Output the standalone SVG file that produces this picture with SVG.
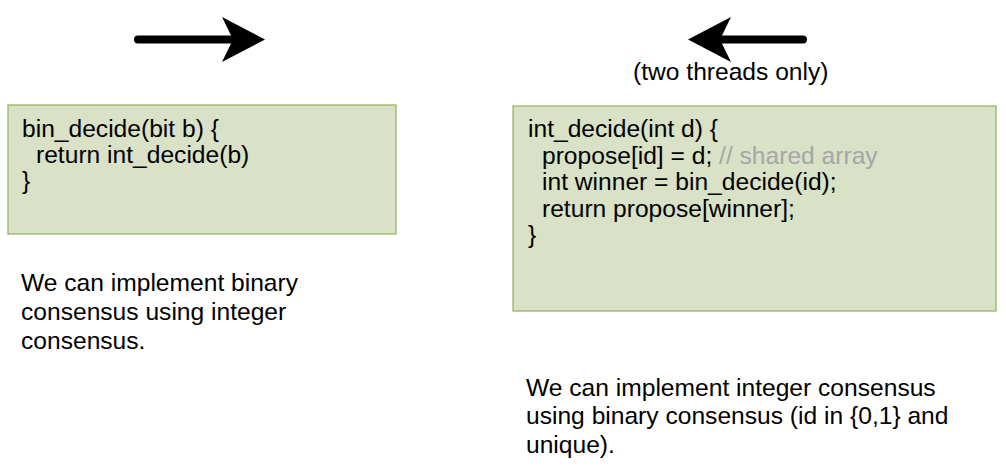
<svg xmlns="http://www.w3.org/2000/svg" width="1006" height="468" viewBox="0 0 1006 468">
  <style>
    .box { fill: #d9e1c6; stroke: #9bb462; stroke-width: 1.3; }
    .t { font-family: "Liberation Sans", Arial, sans-serif; font-size: 24.6px; fill: #000000; }
    .cm { fill: #a6a6a6; }
    .arrow { stroke: #000000; stroke-width: 8; stroke-linecap: round; fill: none; marker-end: url(#stealth); }
  </style>
  <defs>
    <marker id="stealth" markerUnits="userSpaceOnUse" viewBox="-12 -24 46 48" refX="0" refY="0" markerWidth="46" markerHeight="48" orient="auto">
      <path d="M-11,-22.5 L32,0 L-11,22.5 L0,0 Z" fill="#000000"/>
    </marker>
  </defs>
  <rect width="1006" height="468" fill="#ffffff"/>

  <g id="connectors">
    <line class="arrow" x1="138" y1="39.5" x2="233" y2="39.5"/>
    <line class="arrow" x1="803" y1="39.5" x2="720" y2="39.5"/>
  </g>

  <g id="label-two-threads">
    <text class="t" x="633" y="80">(two threads only)</text>
  </g>

  <g id="bin-decide-box">
    <rect class="box" x="8" y="105" width="388" height="129"/>
    <text class="t" x="22" y="137">bin_decide(bit b) {</text>
    <text class="t" x="36" y="163">return int_decide(b)</text>
    <text class="t" x="22" y="189">}</text>
  </g>

  <g id="int-decide-box">
    <rect class="box" x="513" y="106" width="483" height="205"/>
    <text class="t" x="528" y="137">int_decide(int d) {</text>
    <text class="t" x="542" y="163.5">propose[id] = d; <tspan class="cm">// shared array</tspan></text>
    <text class="t" x="542" y="190">int winner = bin_decide(id);</text>
    <text class="t" x="542" y="216.5">return propose[winner];</text>
    <text class="t" x="528" y="243">}</text>
  </g>

  <g id="caption-left">
    <text class="t" x="21" y="291">We can implement binary</text>
    <text class="t" x="21" y="320">consensus using integer</text>
    <text class="t" x="21" y="349">consensus.</text>
  </g>

  <g id="caption-right">
    <text class="t" x="526" y="395.5">We can implement integer consensus</text>
    <text class="t" x="526" y="424">using binary consensus (id in {0,1} and</text>
    <text class="t" x="526" y="452.5">unique).</text>
  </g>
</svg>
